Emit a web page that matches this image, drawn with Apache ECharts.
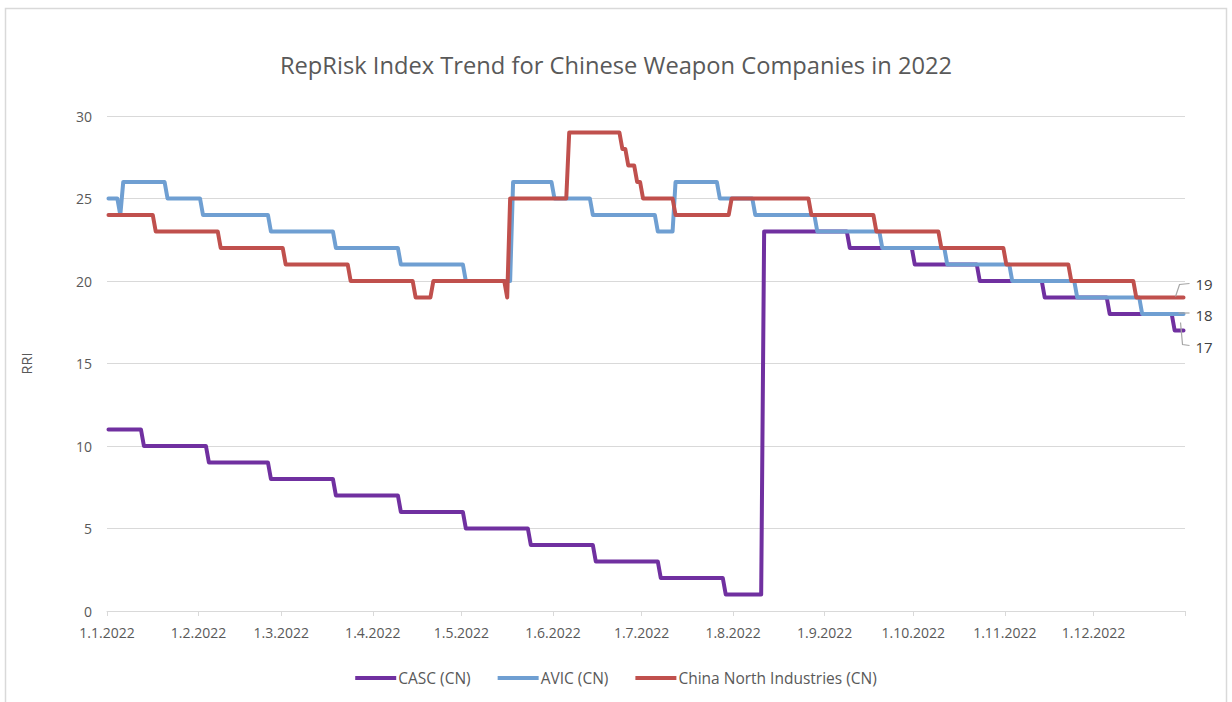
<!DOCTYPE html>
<html><head><meta charset="utf-8">
<script src="https://cdn.jsdelivr.net/npm/echarts@6/dist/echarts.min.js"></script>
<style>html,body{margin:0;padding:0;background:#fff}#c{width:1232px;height:702px}</style>
</head><body><div id="c"></div>
<script>
// ---- data ----
const chartTitle = 'RepRisk Index Trend for Chinese Weapon Companies in 2022';
const seriesNames = ['CASC (CN)', 'AVIC (CN)', 'China North Industries (CN)'];
const seriesColors = ['#7030A0', '#6F9FD2', '#C0504D'];

// dates on which a new RRI value begins, and that value
const cascDates = ['2022-01-01','2022-01-13','2022-02-04','2022-02-25','2022-03-19','2022-04-10','2022-05-02','2022-05-24','2022-06-15','2022-07-07','2022-07-29','2022-08-11','2022-09-09','2022-10-01','2022-10-23','2022-11-14','2022-12-06','2022-12-28'];
const cascValues = [11,10,9,8,7,6,5,4,3,2,1,23,22,21,20,19,18,17];

const avicDates = ['2022-01-01','2022-01-05','2022-01-06','2022-01-21','2022-02-02','2022-02-25','2022-03-19','2022-04-10','2022-05-02','2022-05-18','2022-06-01','2022-06-14','2022-07-06','2022-07-12','2022-07-27','2022-08-08','2022-08-29','2022-09-20','2022-10-12','2022-11-03','2022-11-25','2022-12-17'];
const avicValues = [25,24,26,25,24,23,22,21,20,26,25,24,23,26,25,24,23,22,21,20,19,18];

const cniDates = ['2022-01-01','2022-01-17','2022-02-08','2022-03-02','2022-03-24','2022-04-15','2022-04-21','2022-05-16','2022-05-17','2022-06-06','2022-06-24','2022-06-26','2022-06-29','2022-07-01','2022-07-12','2022-07-31','2022-08-27','2022-09-18','2022-10-10','2022-11-01','2022-11-23','2022-12-15'];
const cniValues = [24,23,22,21,20,19,20,19,25,29,28,27,26,25,24,25,24,23,22,21,20,19];

const lastDate = '2022-12-31';
const axisStart = '2022-01-01';
const axisEnd = '2023-01-01';
const xTickLabels = ['1.1.2022','1.2.2022','1.3.2022','1.4.2022','1.5.2022','1.6.2022','1.7.2022','1.8.2022','1.9.2022','1.10.2022','1.11.2022','1.12.2022'];
const yTicks = [0,5,10,15,20,25,30];
const yAxisName = 'RRI';

// ---- helpers ----
// each daily value is plotted at the middle of its day slot
function ts(s, shift, hour){ const p = s.split('-').map(Number); return new Date(p[0], p[1]-1, p[2] + (shift||0), hour||0).getTime(); }
function fromLabel(l){ const p = l.split('.').map(Number); return new Date(p[2], p[1]-1, p[0]).getTime(); }
// daily step series: value held until the day before the next change
function stepPoints(dates, vals){
  const pts = [];
  for (let i = 0; i < dates.length; i++) {
    if (i > 0) pts.push([ts(dates[i], -1, 12), vals[i-1]]);
    pts.push([ts(dates[i], 0, 12), vals[i]]);
  }
  pts.push([ts(lastDate, 0, 12), vals[vals.length-1]]);
  return pts;
}
const allData = [stepPoints(cascDates, cascValues), stepPoints(avicDates, avicValues), stepPoints(cniDates, cniValues)];
const labelTicks = xTickLabels.map(fromLabel);
const tickValues = labelTicks.concat([ts(axisEnd)]);
const FONT = 'Open Sans';

const chart = echarts.init(document.getElementById('c'), null, {renderer: 'svg'});
chart.setOption({
  animation: false,
  backgroundColor: '#ffffff',
  title: {
    text: chartTitle, left: 'center', top: 48,
    textStyle: {fontFamily: FONT, fontSize: 23.7, fontWeight: 'normal', color: '#595959'}
  },
  legend: {
    bottom: 11, left: 'center', itemWidth: 41, itemHeight: 4, itemGap: 27, icon: 'rect',
    data: seriesNames,
    textStyle: {fontFamily: FONT, fontSize: 15.5, color: '#595959', padding: [0,0,0,-3]}
  },
  grid: {left: 107, right: 47, top: 116, bottom: 91, containLabel: false},
  xAxis: {
    type: 'value', min: ts(axisStart), max: ts(axisEnd),
    axisLine: {show: true, lineStyle: {color: '#d9d9d9', width: 1}},
    axisTick: {show: true, length: 5, lineStyle: {color: '#d9d9d9'}, customValues: tickValues},
    splitLine: {show: false},
    axisLabel: {
      customValues: labelTicks, margin: 14, color: '#595959', fontFamily: FONT, fontSize: 14,
      formatter: function(v){ const i = labelTicks.indexOf(v); return i >= 0 ? xTickLabels[i] : ''; }
    }
  },
  yAxis: {
    type: 'value', min: yTicks[0], max: yTicks[yTicks.length-1], interval: 5,
    name: yAxisName, nameLocation: 'middle', nameGap: 73, nameRotate: 90,
    nameTextStyle: {fontFamily: FONT, fontSize: 14.5, color: '#595959'},
    axisLine: {show: false}, axisTick: {show: false},
    splitLine: {lineStyle: {color: '#d9d9d9', width: 1}},
    axisLabel: {margin: 15, color: '#595959', fontFamily: FONT, fontSize: 14}
  },
  series: seriesNames.map((n, i) => ({
    name: n, type: 'line', data: allData[i], showSymbol: false, symbol: 'none',
    color: seriesColors[i],
    lineStyle: {width: 4, color: seriesColors[i], join: 'round', cap: 'round'}
  }))
});

// leader lines and end labels anchored to each series' last point
const leader = [
  {line: [[-3,-8],[-1,14],[6,15]], text: [12,16]},
  {line: [[-5,-1],[6,-1]], text: [12,1]},
  {line: [[-8,-1],[-4,-13],[6,-14]], text: [12,-14]}
];
const g = [{
  type: 'rect', silent: true, z: -10,
  shape: {x: 5.5, y: 8.5, width: 1221, height: 702},
  style: {fill: 'none', stroke: '#d9d9d9', lineWidth: 1.5}
}];
allData.forEach((d, i) => {
  const last = d[d.length-1];
  const p = chart.convertToPixel({seriesIndex: i}, last);
  g.push({type: 'polyline', silent: true, z: 10,
    shape: {points: leader[i].line.map(o => [p[0]+o[0], p[1]+o[1]])},
    style: {stroke: '#a6a6a6', lineWidth: 1.2, fill: 'none'}});
  g.push({type: 'text', silent: true, z: 10, x: p[0]+leader[i].text[0], y: p[1]+leader[i].text[1],
    style: {text: String(last[1]), fill: '#404040', font: '15px "' + FONT + '"', textAlign: 'left', textVerticalAlign: 'middle'}});
});
chart.setOption({graphic: g});
</script></body></html>
